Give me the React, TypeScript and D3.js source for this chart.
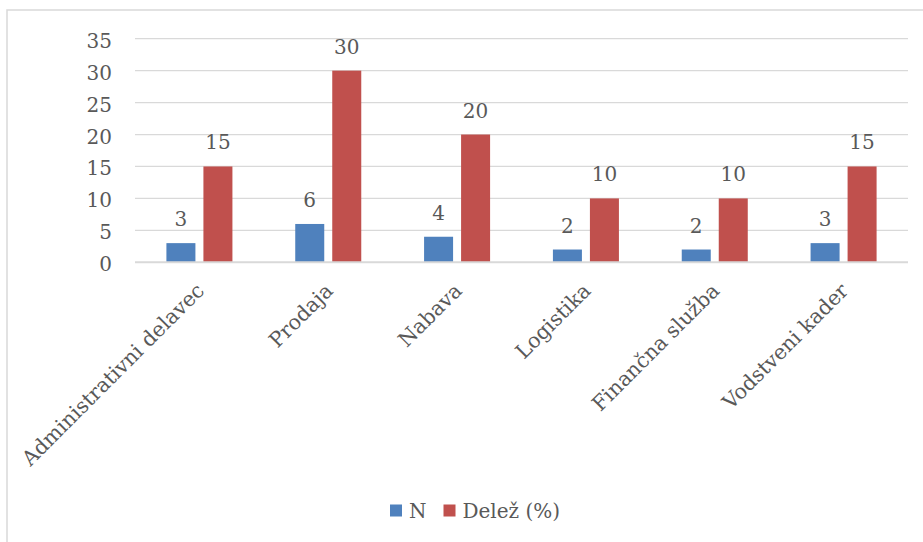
import React from "react";
import * as d3 from "d3";

const categories = [
  "Administrativni delavec",
  "Prodaja",
  "Nabava",
  "Logistika",
  "Finančna služba",
  "Vodstveni kader",
];
const seriesNames = ["N", "Delež (%)"];
const countValues = [3, 6, 4, 2, 2, 3];
const shareValues = [15, 30, 20, 10, 10, 15];
const yTicks = [0, 5, 10, 15, 20, 25, 30, 35];
const colors = ["#4f81bd", "#c0504d"];

const W = 923;
const H = 542;
const FONT = "'DejaVu Serif', 'Liberation Serif', serif";
const TEXT = "#595959";
const GRID = "#d9d9d9";

export default function App() {
  const x0 = d3
    .scaleBand<string>()
    .domain(categories)
    .range([135, 908])
    .paddingInner(0.4876)
    .paddingOuter(0.2438);
  const x1 = d3
    .scaleBand<string>()
    .domain(seriesNames)
    .range([0, x0.bandwidth()])
    .paddingInner(8 / 37)
    .paddingOuter(0);
  const y = d3.scaleLinear().domain([0, 35]).range([262.3, 38.7]);

  const series = [countValues, shareValues];
  const [gx0, gx1] = x0.range();

  return (
    <div style={{ position: "fixed", left: 0, top: 0 }}>
      <svg width={W} height={H} style={{ display: "block", background: "#fff" }}>
        {/* chart frame */}
        <rect x={7} y={10} width={W + 20} height={H + 20} fill="#fff" stroke={GRID} strokeWidth={1.5} />

        {/* gridlines */}
        {yTicks.map((t) =>
          t === 0 ? null : (
            <line key={t} x1={gx0} x2={gx1} y1={y(t)} y2={y(t)} stroke={GRID} strokeWidth={1.2} />
          )
        )}

        {/* y tick labels */}
        {yTicks.map((t) => (
          <text key={t} x={112} y={y(t) + 9} textAnchor="end" fontFamily={FONT} fontSize={20} fill={TEXT}>
            {t}
          </text>
        ))}

        {/* bars and value labels */}
        {categories.map((c, i) => (
          <g key={c} transform={`translate(${x0(c)},0)`}>
            {seriesNames.map((s, j) => {
              const v = series[j][i];
              const bx = x1(s)!;
              return (
                <g key={s}>
                  <rect x={bx} y={y(v)} width={x1.bandwidth()} height={y(0) - y(v)} fill={colors[j]} />
                  <text
                    x={bx + x1.bandwidth() / 2}
                    y={y(v) - 17}
                    textAnchor="middle"
                    fontFamily={FONT}
                    fontSize={20}
                    fill={TEXT}
                  >
                    {v}
                  </text>
                </g>
              );
            })}
          </g>
        ))}

        {/* baseline */}
        <line x1={gx0} x2={gx1} y1={y(0)} y2={y(0)} stroke={GRID} strokeWidth={2} />

        {/* category labels */}
        {categories.map((c) => {
          const cx = x0(c)! + x0.bandwidth() / 2 + 6;
          const cy = 292;
          return (
            <text
              key={c}
              transform={`translate(${cx},${cy}) rotate(-45)`}
              textAnchor="end"
              fontFamily={FONT}
              fontSize={20.6}
              fill={TEXT}
            >
              {c}
            </text>
          );
        })}

        {/* legend */}
        <rect x={390} y={504.5} width={12} height={12} fill={colors[0]} />
        <text x={409} y={518} fontFamily={FONT} fontSize={20} fill={TEXT}>
          {seriesNames[0]}
        </text>
        <rect x={443.5} y={504.5} width={12} height={12} fill={colors[1]} />
        <text x={462.5} y={518} fontFamily={FONT} fontSize={20} fill={TEXT}>
          {seriesNames[1]}
        </text>
      </svg>
    </div>
  );
}
